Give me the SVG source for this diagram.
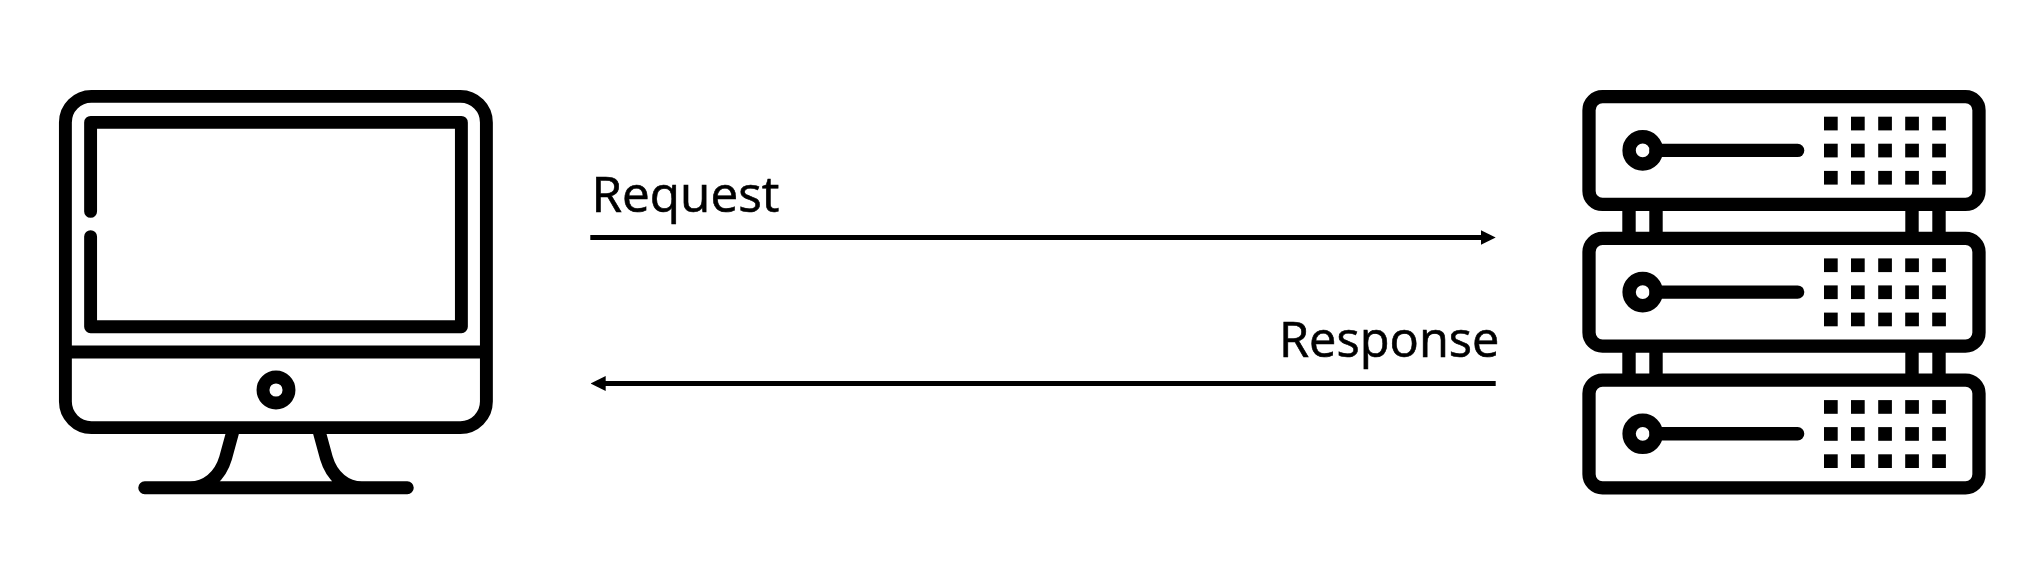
<svg xmlns="http://www.w3.org/2000/svg" xmlns:xlink="http://www.w3.org/1999/xlink" width="2044" height="566" viewBox="0 0 2044 566">
<style>
.s{fill:none;stroke:#000;stroke-width:12.9}
.r{stroke-linecap:round;stroke-linejoin:round}
.c{fill:none;stroke:#000;stroke-width:5}
.l{font-family:"Open Sans","Liberation Sans",sans-serif;font-size:48.5px;fill:#000;stroke:#000;stroke-width:.6px}
.d{fill:#000}
</style>
<defs>
<marker id="ah" markerUnits="userSpaceOnUse" markerWidth="15" markerHeight="15" refX="1" refY="7.5" orient="auto-start-reverse"><path d="M0 0L15 7.5L0 15Z" fill="#000"/></marker>
<g id="unit">
<rect class="s" x="1589" y="0" width="390" height="107.7" rx="13.5" style="stroke-width:13.3"/>
<circle class="s" cx="1642.7" cy="53.7" r="13.6" style="stroke-width:13.4"/>
<path class="s r" d="M1656 53.7H1797.6" style="stroke-width:13.4"/>
<g class="d">
<rect x="1824" y="20" width="13.7" height="13.7"/><rect x="1851" y="20" width="13.7" height="13.7"/><rect x="1878.2" y="20" width="13.7" height="13.7"/><rect x="1905.2" y="20" width="13.7" height="13.7"/><rect x="1932.2" y="20" width="13.7" height="13.7"/>
<rect x="1824" y="47" width="13.7" height="13.7"/><rect x="1851" y="47" width="13.7" height="13.7"/><rect x="1878.2" y="47" width="13.7" height="13.7"/><rect x="1905.2" y="47" width="13.7" height="13.7"/><rect x="1932.2" y="47" width="13.7" height="13.7"/>
<rect x="1824" y="74.2" width="13.7" height="13.7"/><rect x="1851" y="74.2" width="13.7" height="13.7"/><rect x="1878.2" y="74.2" width="13.7" height="13.7"/><rect x="1905.2" y="74.2" width="13.7" height="13.7"/><rect x="1932.2" y="74.2" width="13.7" height="13.7"/>
</g>
</g>
<path id="posts" class="s" style="stroke-width:13.4" d="M1629 0V34M1656 0V34M1912 0V34M1939 0V34"/>
</defs>
<rect width="2044" height="566" fill="#fff"/>
<g id="computer">
<rect class="s" x="65.4" y="96.4" width="421" height="331.2" rx="26"/>
<path class="s" d="M65 352H486"/>
<path class="s r" d="M90.6 211.4V122.4H461.4V326.7H90.6V236.6"/>
<circle class="s" cx="276" cy="390" r="13"/>
<path class="s r" d="M144.7 487.8H407.3M232.7 432L225.6 458C220 477 206 487.8 190 487.8M319.3 432L326.4 458C332 477 346 487.8 362 487.8"/>
</g>
<g id="server">
<use xlink:href="#posts" href="#posts" y="204.3"/>
<use xlink:href="#posts" href="#posts" y="346"/>
<use xlink:href="#unit" href="#unit" y="96.7"/>
<use xlink:href="#unit" href="#unit" y="238.4"/>
<use xlink:href="#unit" href="#unit" y="380.1"/>
</g>
<g id="connectors">
<line class="c" x1="590.3" y1="237.5" x2="1481.7" y2="237.5" marker-end="url(#ah)"/>
<line class="c" x1="1495.7" y1="383.5" x2="604.7" y2="383.5" marker-end="url(#ah)"/>
</g>
<g id="label-request"><text class="l" x="591.5" y="211.7" textLength="188" lengthAdjust="spacingAndGlyphs">Request</text></g>
<g id="label-response"><text class="l" x="1279" y="356.7" textLength="220.5" lengthAdjust="spacingAndGlyphs">Response</text></g>
</svg>
